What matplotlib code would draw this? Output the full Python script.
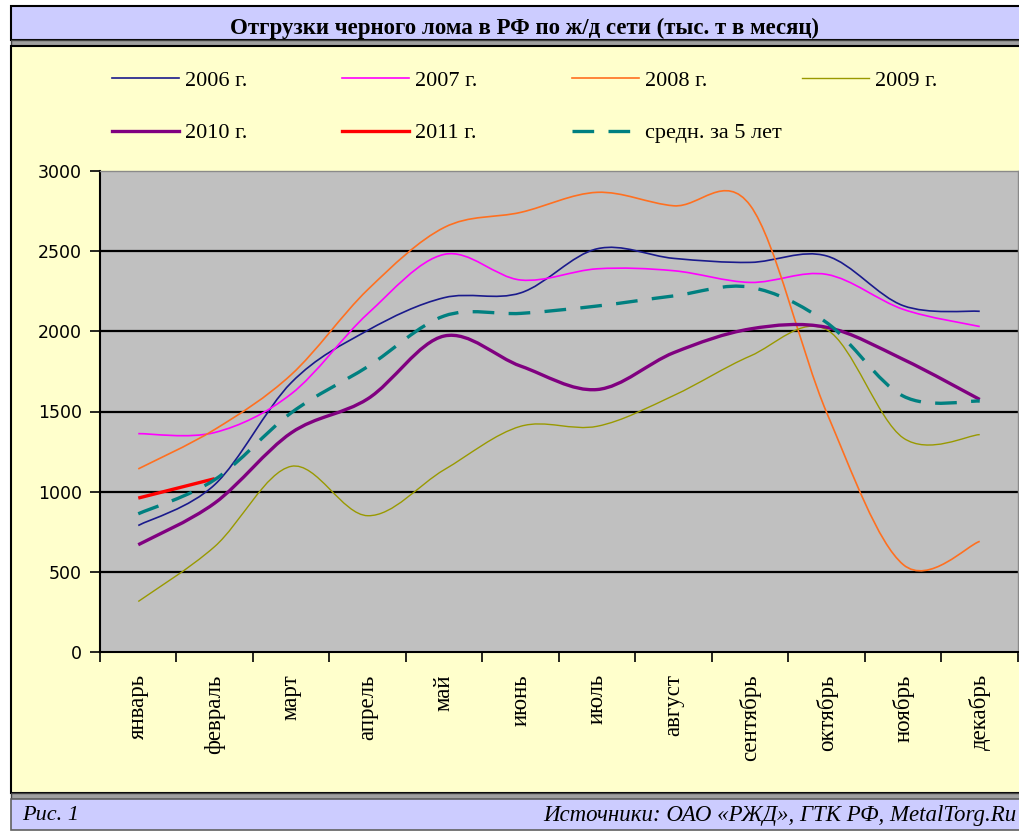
import matplotlib
matplotlib.use("Agg")
import matplotlib.pyplot as plt
from matplotlib.path import Path
from matplotlib.patches import PathPatch, Rectangle
from matplotlib.lines import Line2D

W, H = 1020, 831  # output size, px

MONTHS = ["январь", "февраль", "март", "апрель", "май", "июнь",
          "июль", "август", "сентябрь", "октябрь", "ноябрь", "декабрь"]

# monthly shipments, thousand t
Y2006 = [789, 1044, 1680, 2006, 2210, 2240, 2515, 2455, 2430, 2470, 2160, 2125]
Y2007 = [1362, 1369, 1610, 2110, 2480, 2320, 2390, 2378, 2305, 2355, 2137, 2030]
Y2008 = [1142, 1388, 1730, 2260, 2648, 2742, 2867, 2783, 2785, 1492, 545, 690]
Y2009 = [315, 658, 1158, 850, 1137, 1408, 1408, 1600, 1846, 2010, 1335, 1356]
Y2010 = [669, 929, 1367, 1579, 1971, 1783, 1637, 1867, 2015, 2025, 1825, 1575]
Y2011 = [960, 1081]
AVG5 = [862, 1075, 1492, 1780, 2096, 2112, 2158, 2221, 2275, 2054, 1596, 1565]

LABELS = ["2006 г.", "2007 г.", "2008 г.", "2009 г.", "2010 г.", "2011 г.", "средн. за 5 лет"]

SERIF = "Liberation Serif"
LAV = "#CCCCFF"
YEL = "#FFFFCC"


def smooth_path(ys):
    # excel-style smoothed line: cubic bezier through every point
    xs = list(range(len(ys)))
    pts = list(zip(xs, ys))
    n = len(pts)
    verts = [pts[0]]
    codes = [Path.MOVETO]
    for i in range(n - 1):
        p0 = pts[max(i - 1, 0)]
        p1 = pts[i]
        p2 = pts[i + 1]
        p3 = pts[min(i + 2, n - 1)]
        c1 = (p1[0] + (p2[0] - p0[0]) / 6, p1[1] + (p2[1] - p0[1]) / 6)
        c2 = (p2[0] - (p3[0] - p1[0]) / 6, p2[1] - (p3[1] - p1[1]) / 6)
        verts += [c1, c2, p2]
        codes += [Path.CURVE4] * 3
    return Path(verts, codes)


fig = plt.figure(figsize=(W / 100, H / 100), dpi=100)
fig.patch.set_facecolor("white")

# background frame in pixel coords
bg = fig.add_axes([0, 0, 1, 1])
bg.set_xlim(0, W)
bg.set_ylim(H, 0)
bg.axis("off")
bg.add_patch(Rectangle((11, 6), W, 34, facecolor=LAV, edgecolor="black", lw=1.5))
bg.add_patch(Rectangle((11, 40), W, 6, facecolor="#A0A0A0", edgecolor="#404040", lw=1))
bg.add_patch(Rectangle((11, 46), W, 747, facecolor=YEL, edgecolor="black", lw=1.5))
bg.add_patch(Rectangle((11, 793), W, 6, facecolor="#A0A0A0", edgecolor="#404040", lw=1))
bg.add_patch(Rectangle((11, 799), W, 31, facecolor=LAV, edgecolor="#606060", lw=1.2))

bg.text(525, 28, "Отгрузки черного лома в РФ по ж/д сети (тыс. т в месяц)",
        ha="center", va="center", fontsize=16.5, fontweight="bold", family=SERIF)
bg.text(22, 816, "Рис. 1", ha="left", va="center", fontsize=16, style="italic", family=SERIF)
bg.text(1017, 816, "Источники: ОАО «РЖД», ГТК РФ, MetalTorg.Ru", ha="right", va="center",
        fontsize=16.5, style="italic", family=SERIF)

# plot area
ax = fig.add_axes([100 / W, 1 - 652 / H, 918 / W, 481 / H])
ax.set_facecolor("#C0C0C0")
ax.set_xlim(-0.5, 11.5)
ax.set_ylim(0, 3000)

for v in range(500, 3000, 500):
    ax.axhline(v, color="black", lw=1.6, zorder=1)

styles = [
    (Y2006, dict(color="#1A1A8C", lw=1.2)),
    (Y2007, dict(color="#FF00FF", lw=1.2)),
    (Y2008, dict(color="#FF7020", lw=1.2)),
    (Y2009, dict(color="#999900", lw=1.0)),
    (Y2010, dict(color="#800080", lw=2.4)),
    (Y2011, dict(color="#FF0000", lw=2.4)),
    (AVG5, dict(color="#008080", lw=2.4, linestyle=(0, (6.5, 4.3)))),
]

handles = []
for ys, st in styles:
    ax.add_patch(PathPatch(smooth_path(ys), fill=False, capstyle="butt", zorder=3, **st))
    handles.append(Line2D([], [], **st))

ax.set_yticks(range(0, 3001, 500))
ax.set_yticklabels([str(v) for v in range(0, 3001, 500)], fontsize=12.5, family="DejaVu Sans")
ax.set_xticks([i - 0.5 for i in range(13)])
ax.set_xticklabels([])
ax.set_xticks(range(12), minor=True)
ax.set_xticklabels(MONTHS, minor=True, rotation=90, family=SERIF, fontsize=16.5, va="top")
ax.tick_params(axis="x", which="minor", length=0, pad=16)
ax.tick_params(axis="both", which="major", direction="out", length=7, width=1.2, color="black")
ax.tick_params(axis="y", pad=6)

for s in ["left", "bottom"]:
    ax.spines[s].set_color("black")
    ax.spines[s].set_linewidth(1.5)
for s in ["top", "right"]:
    ax.spines[s].set_color("#8A8A8A")
    ax.spines[s].set_linewidth(1.0)

# legend: one legend per column so columns keep equal pitch
cols = [[0, 4], [1, 5], [2, 6], [3]]
col_x = [112, 342, 572, 802]
for xi, idx in zip(col_x, cols):
    fig.legend([handles[i] for i in idx], [LABELS[i] for i in idx],
               loc="upper left", bbox_to_anchor=(xi / W, 1 - 70 / H),
               frameon=False, prop={"family": SERIF, "size": 16},
               handlelength=3.0, handletextpad=0.3, labelspacing=1.45,
               borderaxespad=0, borderpad=0)

fig.savefig("out.png", dpi=100, facecolor=fig.get_facecolor())
